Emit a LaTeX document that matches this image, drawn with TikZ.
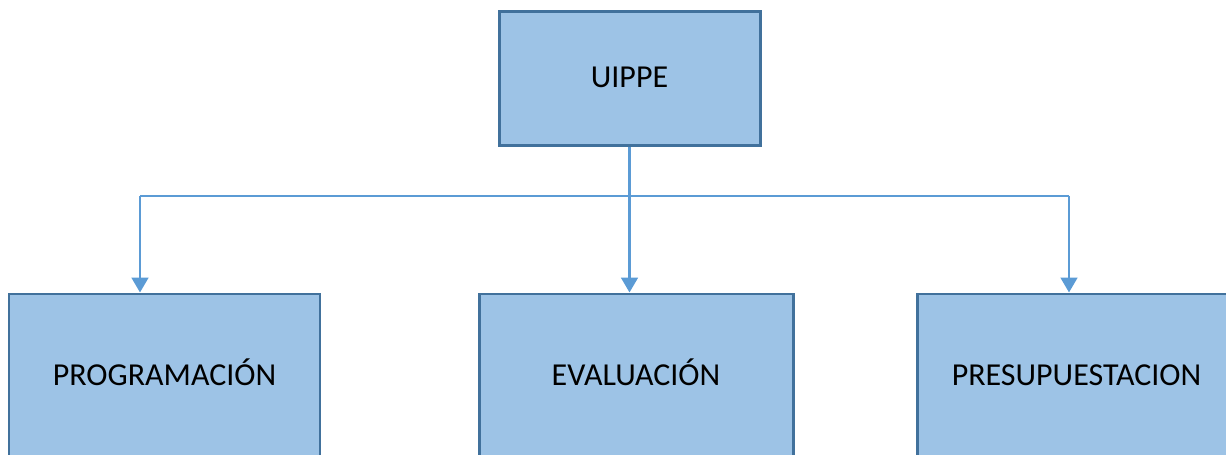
\documentclass[tikz,border=0pt]{standalone}
\usepackage{fontspec}
\setmainfont{Carlito}
\usepackage{xcolor}
\usetikzlibrary{arrows.meta}
\definecolor{boxfill}{HTML}{9DC3E6}
\definecolor{boxline}{HTML}{41719C}
\definecolor{linkcol}{HTML}{5B9BD5}

\begin{document}
\begin{tikzpicture}[
  unit/.style={draw=boxline, fill=boxfill, line width=1.7pt, minimum height=2.68cm, font=\fontsize{18.2}{21}\selectfont, text=black, text height=1.15em, text depth=0.2em},
  sub/.style={unit, minimum height=3.32cm},
  link/.style={draw=linkcol, line width=1.5pt},
  arr/.style={link, -{Triangle[length=8.5pt,width=9.5pt]}}
]
\clip (0,0) rectangle (24.52,9.1);
\useasboundingbox (0,0) rectangle (24.52,9.1);

\node[unit, minimum width=5.22cm] (uippe) at (12.59,7.52) {UIPPE};
\node[sub, minimum width=6.22cm] (prog) at (3.29,1.56) {PROGRAMACIÓN};
\node[sub, minimum width=6.28cm] (eval) at (12.72,1.56) {EVALUACIÓN};
\node[sub, minimum width=6.38cm] (pres) at (21.53,1.56) {PRESUPUESTACION};

\coordinate (busl) at (2.8,5.18);
\coordinate (busr) at (21.38,5.18);

\draw[link] (busl) -- (busr);
\draw[arr] (uippe.south) -- (uippe.south |- eval.north);
\draw[arr] (busl) -- (busl |- prog.north);
\draw[arr] (busr) -- (busr |- pres.north);
\end{tikzpicture}
\end{document}
